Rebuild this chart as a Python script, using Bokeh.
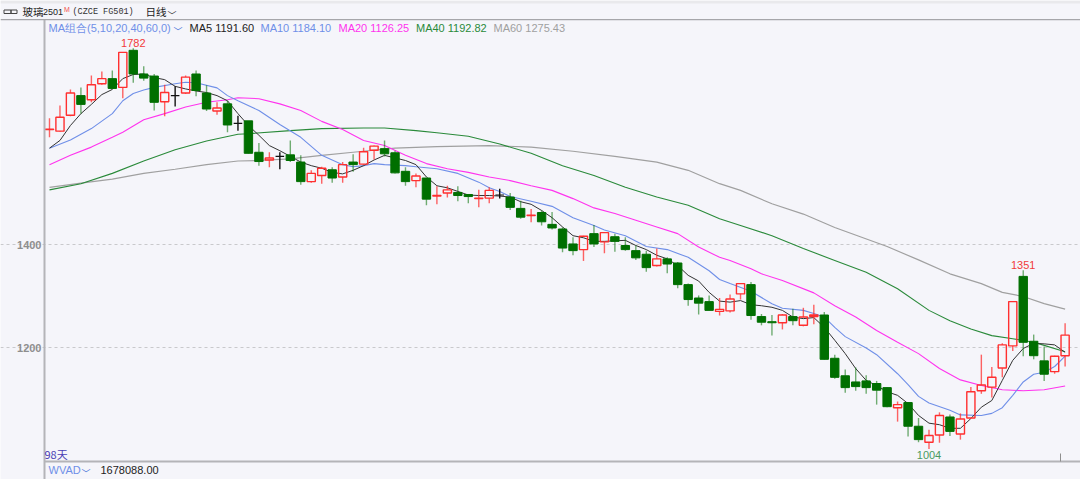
from bokeh.embed import file_html
from bokeh.models import BoxAnnotation, ColumnDataSource, FixedTicker, Label, Range1d
from bokeh.plotting import figure
from bokeh.resources import INLINE

opens = [1624, 1621, 1652, 1690, 1682, 1713, 1723, 1706, 1778, 1732,
         1728, 1678, 1690, 1695, 1732, 1695, 1660, 1674, 1636, 1641,
         1580, 1565, 1572, 1575, 1561, 1523, 1535, 1546, 1532, 1561,
         1557, 1584, 1587, 1579, 1543, 1525, 1530, 1495, 1501, 1502,
         1498, 1490, 1491, 1497, 1493, 1471, 1457, 1463, 1440, 1431,
         1402, 1391, 1422, 1406, 1416, 1399, 1389, 1382, 1360, 1373,
         1365, 1323, 1297, 1290, 1271, 1272, 1305, 1323, 1261, 1251,
         1249, 1261, 1244, 1261, 1264, 1180, 1146, 1134, 1136, 1131,
         1123, 1084, 1094, 1048, 1017, 1031, 1066, 1033, 1064, 1117,
         1124, 1161, 1204, 1339, 1213, 1175, 1154, 1185]
closes = [1625, 1648, 1695, 1673, 1711, 1723, 1704, 1774, 1732, 1724,
          1677, 1696, 1690, 1726, 1700, 1664, 1666, 1633, 1636, 1578,
          1562, 1569, 1572, 1564, 1523, 1539, 1549, 1530, 1556, 1556,
          1581, 1592, 1577, 1540, 1523, 1534, 1489, 1496, 1507, 1496,
          1494, 1491, 1506, 1497, 1473, 1454, 1458, 1445, 1433, 1394,
          1389, 1417, 1402, 1424, 1407, 1391, 1375, 1356, 1373, 1363,
          1323, 1294, 1287, 1273, 1275, 1295, 1325, 1263, 1250, 1249,
          1264, 1253, 1260, 1264, 1178, 1143, 1123, 1125, 1123, 1118,
          1086, 1090, 1048, 1022, 1030, 1069, 1038, 1062, 1115, 1128,
          1143, 1206, 1290, 1211, 1185, 1149, 1184, 1225]
highs = [1646, 1671, 1702, 1706, 1729, 1737, 1739, 1774, 1782, 1747,
         1732, 1711, 1708, 1729, 1739, 1710, 1677, 1680, 1651, 1641,
         1598, 1580, 1580, 1603, 1574, 1545, 1552, 1551, 1561, 1576,
         1589, 1593, 1603, 1583, 1551, 1539, 1530, 1514, 1515, 1514,
         1499, 1507, 1512, 1509, 1501, 1486, 1470, 1467, 1464, 1434,
         1415, 1418, 1439, 1425, 1422, 1415, 1399, 1389, 1393, 1376,
         1367, 1325, 1302, 1302, 1297, 1304, 1326, 1328, 1266, 1264,
         1266, 1276, 1278, 1284, 1270, 1187, 1158, 1162, 1147, 1136,
         1124, 1096, 1095, 1064, 1041, 1075, 1071, 1073, 1124, 1187,
         1163, 1209, 1290, 1351, 1226, 1203, 1185, 1248]
lows = [1609, 1620, 1650, 1655, 1677, 1711, 1703, 1685, 1715, 1719,
        1661, 1650, 1669, 1693, 1689, 1660, 1653, 1619, 1622, 1577,
        1554, 1551, 1547, 1561, 1517, 1521, 1519, 1521, 1521, 1542,
        1556, 1566, 1572, 1539, 1515, 1512, 1477, 1479, 1492, 1485,
        1481, 1473, 1481, 1490, 1468, 1451, 1444, 1438, 1430, 1386,
        1380, 1369, 1396, 1384, 1387, 1389, 1371, 1348, 1358, 1345,
        1316, 1282, 1265, 1273, 1263, 1269, 1294, 1255, 1244, 1224,
        1236, 1244, 1242, 1246, 1177, 1140, 1113, 1117, 1111, 1090,
        1085, 1057, 1028, 1017, 1004, 1016, 1029, 1022, 1064, 1111,
        1104, 1143, 1194, 1184, 1178, 1136, 1150, 1164]

ma5 = [1588, 1603, 1632, 1655, 1673, 1692, 1702, 1723, 1731, 1732,
       1725, 1721, 1708, 1703, 1699, 1696, 1690, 1680, 1655, 1632,
       1613, 1593, 1583, 1572, 1561, 1554, 1549, 1541, 1538, 1545,
       1554, 1565, 1574, 1569, 1564, 1556, 1532, 1515, 1511, 1504,
       1497, 1496, 1496, 1495, 1493, 1484, 1479, 1467, 1453, 1435,
       1418, 1414, 1407, 1407, 1408, 1409, 1399, 1391, 1380, 1373,
       1360, 1341, 1330, 1308, 1291, 1289, 1292, 1284, 1282, 1279,
       1273, 1260, 1257, 1259, 1240, 1215, 1189, 1160, 1137, 1127,
       1115, 1108, 1092, 1069, 1054, 1051, 1044, 1044, 1063, 1085,
       1098, 1137, 1176, 1199, 1209, 1208, 1206, 1191.6]
ma10_idx = [0, 2, 4, 6, 7, 8, 9, 10, 12, 13, 14, 16, 17, 18, 20, 22, 24, 26, 28, 29,
            30, 31, 32, 34, 35, 37, 39, 41, 42, 43, 44, 46, 48, 50, 52, 53, 55, 57, 59, 61,
            63, 64, 65, 67, 69, 70, 72, 73, 74, 75, 76, 78, 79, 81, 82, 83, 84, 86, 87, 89,
            90, 91, 92, 93, 94, 95, 96, 97]
ma10 = [1588, 1604, 1626, 1655, 1680, 1694, 1701, 1706, 1713, 1716, 1715, 1705, 1690, 1680, 1661, 1634, 1609, 1574, 1556, 1552,
        1554, 1558, 1556, 1554, 1552, 1548, 1539, 1522, 1511, 1504, 1494, 1485, 1475, 1453, 1438, 1429, 1418, 1397, 1391, 1376,
        1350, 1333, 1325, 1310, 1286, 1277, 1273, 1267, 1260, 1240, 1222, 1200, 1187, 1150, 1129, 1106, 1093, 1079, 1070, 1069,
        1073, 1084, 1108, 1134, 1149, 1153, 1164, 1184.1]
ma20_idx = [0, 2, 4, 6, 7, 9, 11, 13, 15, 17, 18, 20, 22, 24, 26, 28, 30, 32, 34, 36,
            38, 40, 42, 44, 46, 48, 50, 52, 54, 56, 58, 60, 62, 64, 65, 67, 68, 70, 73, 75,
            77, 79, 81, 83, 85, 87, 89, 91, 93, 95, 97]
ma20 = [1556, 1574, 1590, 1609, 1619, 1643, 1655, 1668, 1677, 1682, 1686, 1684, 1674, 1661, 1640, 1624, 1603, 1593, 1574, 1558,
        1548, 1541, 1532, 1525, 1515, 1506, 1490, 1472, 1461, 1448, 1435, 1422, 1396, 1376, 1370, 1354, 1344, 1331, 1307, 1282,
        1260, 1234, 1211, 1189, 1160, 1138, 1127, 1119, 1117, 1119, 1126.25]
ma40_idx = [0, 3, 6, 9, 12, 15, 18, 19, 23, 26, 30, 32, 35, 37, 40, 43, 46, 49, 52, 55,
            58, 61, 64, 66, 69, 72, 75, 78, 81, 84, 86, 88, 90, 92, 94, 95, 97]
ma40 = [1507, 1519, 1539, 1563, 1585, 1602, 1615, 1616, 1622, 1626, 1627, 1627, 1622, 1618, 1611, 1596, 1578, 1554, 1535, 1512,
        1493, 1477, 1451, 1438, 1418, 1393, 1370, 1347, 1315, 1273, 1253, 1237, 1224, 1218, 1211, 1205, 1192.82]
ma60_idx = [0, 3, 6, 9, 12, 15, 18, 20, 23, 26, 29, 33, 37, 42, 46, 50, 54, 58, 61, 64,
            66, 69, 72, 75, 80, 83, 86, 89, 91, 93, 95, 97]
ma60 = [1512, 1520, 1528, 1539, 1547, 1556, 1563, 1564, 1567, 1574, 1580, 1588, 1591, 1593, 1590, 1582, 1572, 1561, 1545, 1519,
        1506, 1480, 1460, 1434, 1397, 1371, 1344, 1325, 1308, 1300, 1286, 1275.43]

peak_idx = [8, 93, 84]
peak_val = [1782, 1351, 1004]
peak_txt = ["1782", "1351", "1004"]
price_ticks = [1200, 1400]
date_tick = [96.55]

BG = "#f5f5fa"
RED = "#ff2f2f"
GREEN = "#006f00"
BLUE = "#6f8fe8"
MAGENTA = "#ff33ee"
MA40C = "#2a8a3a"
GRAY = "#a0a0a0"
SANS = "Liberation Sans"
CJK = "Noto Sans CJK SC"
MONO = "Liberation Mono"

W, H = 1080, 479
X0, X1 = -0.478, 98.47      # index at the price axis, index at the right edge
Y0, Y1 = 979.6, 1837.9      # price at the lower rule, price at the upper rule

# the frame fills the whole canvas, text outside it would be clipped by the svg
p = figure(width=W, height=H, output_backend="svg", toolbar_location=None,
           x_range=Range1d(-4.68, X1), y_range=Range1d(944.6, 1874.7),
           min_border=0, margin=0,
           background_fill_color=BG, border_fill_color=BG, outline_line_color=None)

p.xgrid.visible = False
p.ygrid.ticker = FixedTicker(ticks=price_ticks)
p.ygrid.bounds = (X0, X1)
p.ygrid.grid_line_color = "#c9c9cc"
p.ygrid.grid_line_dash = "3 3"

yax = p.yaxis[0]
yax.fixed_location = X0
yax.bounds = (944.6, Y1)
yax.ticker = FixedTicker(ticks=price_ticks)
yax.major_tick_in = 0
yax.major_tick_out = 0
yax.major_tick_line_color = None
yax.minor_tick_line_color = None
yax.axis_line_color = "#b4b4b8"
yax.axis_line_width = 2
yax.major_label_standoff = 3
yax.major_label_text_color = "#8e8e8e"
yax.major_label_text_font = SANS
yax.major_label_text_font_size = "11px"
yax.major_label_text_font_style = "bold"

xax = p.xaxis[0]
xax.fixed_location = Y0
xax.bounds = (X0, X1)
xax.ticker = FixedTicker(ticks=date_tick)
xax.major_label_overrides = {date_tick[0]: ""}
xax.major_tick_in = 8
xax.major_tick_out = 0
xax.major_tick_line_color = "#8e8e8e"
xax.minor_tick_line_color = None
xax.axis_line_color = "#b4b4b8"
xax.axis_line_width = 2

# moving averages go under the candles, they only show through the hollow ones
p.line(ma60_idx, ma60, color=GRAY, line_width=1.2)
p.line(ma40_idx, ma40, color=MA40C, line_width=1.1)
p.line(ma20_idx, ma20, color=MAGENTA, line_width=1.1)
p.line(ma10_idx, ma10, color=BLUE, line_width=1.1)
p.line(list(range(len(ma5))), ma5, color="#333333", line_width=1)


def pick(test):
    idx = [i for i in range(len(opens)) if test(opens[i], closes[i])]
    return ColumnDataSource(dict(
        x=idx,
        top=[max(opens[i], closes[i]) for i in idx],
        bot=[min(opens[i], closes[i]) for i in idx],
        hi=[highs[i] for i in idx],
        lo=[lows[i] for i in idx],
    ))


groups = [
    (pick(lambda o, c: c > o), RED, None, 0.78, 1.4, 0.75),
    (pick(lambda o, c: c < o), GREEN, GREEN, 0.8, 1, 0.55),
    (pick(lambda o, c: c == o), "#111111", "#111111", 0.82, 1.2, 1),
]
for src, col, fill, wid, lw, wick_alpha in groups:
    p.segment("x", "hi", "x", "top", source=src, color=col, line_width=1.4, line_alpha=wick_alpha)
    p.segment("x", "bot", "x", "lo", source=src, color=col, line_width=1.4, line_alpha=wick_alpha)
    p.vbar("x", top="top", bottom="bot", width=wid, source=src,
           fill_color=fill, line_color=col, line_width=lw)

p.text(peak_idx[:2], peak_val[:2], text=peak_txt[:2], text_color="#f23a3a", text_font_size="11px",
       text_font={"value": SANS}, text_align="center", text_baseline="bottom", y_offset=-1)
p.text(peak_idx[2:], peak_val[2:], text=peak_txt[2:], text_color="#4a9a60", text_font_size="11px",
       text_font={"value": SANS}, text_align="center", text_baseline="top", y_offset=2)


def box(x0, x1, y0, y1, fill=None, line=None):
    p.add_layout(BoxAnnotation(left=x0, right=x1, top=y0, bottom=y1, left_units="canvas",
                               right_units="canvas", top_units="canvas", bottom_units="canvas",
                               fill_color=fill, fill_alpha=1 if fill else 0, line_color=line,
                               line_alpha=1, line_width=1, level="overlay"))


box(0, W, 0, 3, fill="#e9e9ec")
box(0, W, 18.5, 19.7, fill="#a6a6aa")
box(3.5, 10.5, 9.5, 13, line="#444444")
box(10.5, 16.5, 9.5, 13, line="#444444")


def note(txt, px, py, col, size=11, font=SANS):
    p.add_layout(Label(x=px, y=H - py, x_units="screen", y_units="screen", text=txt,
                       text_color=col, text_font_size=f"{size}px", text_font=font,
                       text_baseline="middle", text_align="left"))


note("玻璃", 22, 11, "#222222", 10.5, CJK)
note("2501", 42.5, 11, "#222222", 9, SANS)
note("M", 63.5, 9, "#f05050", 7, SANS)
note("(CZCE FG501)", 72, 11, "#333333", 8.5, MONO)
note("日线", 145, 11, "#222222", 10.5, CJK)
note("﹀", 167, 15, "#333333", 9, CJK)

note("MA组合(5,10,20,40,60,0)", 48, 27, BLUE, 11)
note("﹀", 173, 31, "#3f6fd8", 9, CJK)
note("MA5 1191.60", 189, 27, "#222222", 11)
note("MA10 1184.10", 260, 27, BLUE, 11)
note("MA20 1126.25", 338, 27, MAGENTA, 11)
note("MA40 1192.82", 415.5, 27, MA40C, 11)
note("MA60 1275.43", 493, 27, GRAY, 11)

note("98天", 44, 453, "#4a3fb5", 11, CJK)
note("WVAD", 48, 469, BLUE, 11)
note("﹀", 81, 473, "#3f6fd8", 9, CJK)
note("1678088.00", 100, 469, "#222222", 11)

open("out.html", "w").write(file_html(p, INLINE))
